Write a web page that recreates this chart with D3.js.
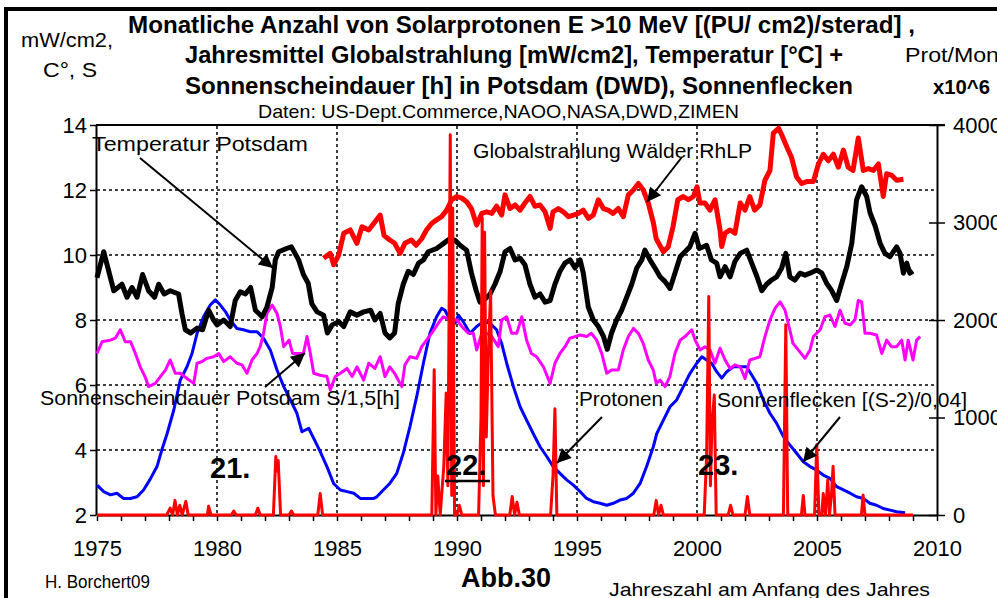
<!DOCTYPE html>
<html>
<head>
<meta charset="utf-8">
<script src="https://cdn.jsdelivr.net/npm/d3@7"></script>
<style>
  body { margin: 0; background: #fff; }
  svg { display: block; font-family: "Liberation Sans", Arial, sans-serif; }
</style>
</head>
<body>
<svg width="997" height="598"></svg>
<script>
// ---- data: [year, value] ----
const tempData = [[1975.00,9.3],[1975.28,10.1],[1975.42,9.7],[1975.70,8.9],[1976.04,9.1],[1976.25,8.7],[1976.46,9.0],[1976.67,8.7],[1976.90,9.4],[1977.15,8.9],[1977.40,8.7],[1977.57,9.1],[1977.80,8.8],[1978.05,8.9],[1978.40,8.8],[1978.54,8.2],[1978.68,7.7],[1978.90,7.6],[1979.17,7.75],[1979.40,7.7],[1979.65,8.3],[1979.86,8.0],[1980.0,7.85],[1980.28,8.0],[1980.55,7.8],[1980.76,8.6],[1980.97,8.87],[1981.18,8.8],[1981.40,9.0],[1981.60,8.3],[1981.88,8.1],[1982.08,8.4],[1982.30,9.0],[1982.43,9.85],[1982.57,10.1],[1982.90,10.2],[1983.10,10.25],[1983.40,9.85],[1983.60,9.4],[1983.80,9.13],[1983.95,8.5],[1984.17,8.25],[1984.44,8.15],[1984.60,7.6],[1984.80,7.85],[1985.07,7.95],[1985.28,7.8],[1985.55,8.25],[1985.83,8.15],[1986.11,8.25],[1986.40,8.3],[1986.58,8.0],[1986.80,8.2],[1987.0,7.6],[1987.2,7.45],[1987.4,7.6],[1987.55,8.5],[1987.76,9.1],[1987.97,9.5],[1988.18,9.4],[1988.4,9.75],[1988.6,9.85],[1988.8,10.1],[1989.15,10.2],[1989.43,10.35],[1989.7,10.5],[1989.92,10.45],[1990.13,10.3],[1990.4,10.15],[1990.6,9.45],[1990.8,8.9],[1990.96,8.55],[1991.17,8.65],[1991.38,8.8],[1991.58,9.1],[1991.8,9.5],[1992.0,10.1],[1992.21,10.2],[1992.42,9.85],[1992.63,9.9],[1992.83,9.7],[1993.04,9.1],[1993.25,8.7],[1993.46,8.8],[1993.67,8.55],[1993.88,8.6],[1994.08,9.1],[1994.29,9.5],[1994.5,9.75],[1994.71,9.85],[1994.92,9.6],[1995.13,9.85],[1995.26,9.45],[1995.47,8.4],[1995.68,8.0],[1995.89,7.8],[1996.1,7.5],[1996.26,7.1],[1996.44,7.6],[1996.65,8.0],[1996.86,8.3],[1997.07,8.7],[1997.28,9.1],[1997.49,9.6],[1997.7,9.85],[1997.83,10.15],[1998.04,9.85],[1998.25,9.6],[1998.46,9.33],[1998.67,9.18],[1998.875,8.97],[1999.08,9.44],[1999.3,9.95],[1999.5,10.1],[1999.7,10.25],[1999.92,10.67],[2000.1,10.2],[2000.4,10.3],[2000.6,9.85],[2000.82,9.75],[2000.96,9.33],[2001.17,9.64],[2001.38,9.33],[2001.58,9.8],[2001.8,10.05],[2002.07,10.15],[2002.28,9.75],[2002.5,9.33],[2002.7,8.9],[2002.9,9.1],[2003.1,9.23],[2003.32,9.33],[2003.53,9.6],[2003.7,10.05],[2003.87,9.33],[2004.08,9.23],[2004.29,9.44],[2004.5,9.38],[2004.71,9.44],[2004.99,9.54],[2005.2,9.44],[2005.4,9.13],[2005.6,8.92],[2005.82,8.6],[2006.03,9.13],[2006.24,9.64],[2006.45,10.36],[2006.65,11.7],[2006.86,12.1],[2007.07,11.8],[2007.21,11.3],[2007.42,10.9],[2007.63,10.36],[2007.83,10.05],[2008.04,9.95],[2008.32,10.25],[2008.46,10.05],[2008.6,9.44],[2008.74,9.75],[2008.87,9.44],[2009.0,9.5]];

const globalData = [[1984.44,9.9],[1984.72,10.05],[1984.86,9.7],[1985.07,10.0],[1985.28,10.67],[1985.55,10.77],[1985.83,10.36],[1986.04,10.87],[1986.32,10.77],[1986.53,10.97],[1986.8,11.23],[1986.96,10.6],[1987.2,10.46],[1987.4,10.36],[1987.63,10.05],[1987.83,10.36],[1988.1,10.46],[1988.3,10.3],[1988.53,10.5],[1988.73,10.77],[1988.94,10.97],[1989.15,11.08],[1989.36,11.18],[1989.57,11.38],[1989.78,11.7],[1990.0,11.8],[1990.2,11.75],[1990.4,11.64],[1990.6,11.43],[1990.82,10.92],[1991.03,11.28],[1991.24,11.33],[1991.45,11.28],[1991.65,11.5],[1991.86,11.23],[1992.0,11.85],[1992.21,11.43],[1992.42,11.54],[1992.63,11.38],[1992.83,11.6],[1993.04,11.8],[1993.25,11.5],[1993.46,11.54],[1993.67,11.33],[1993.88,10.82],[1994.0,11.33],[1994.22,11.43],[1994.43,11.33],[1994.64,11.18],[1994.85,11.23],[1995.06,11.28],[1995.26,11.38],[1995.47,11.13],[1995.68,11.23],[1995.89,11.7],[1996.1,11.43],[1996.3,11.38],[1996.5,11.28],[1996.72,11.43],[1996.93,11.18],[1997.14,11.85],[1997.35,12.0],[1997.56,12.2],[1997.76,12.0],[1997.97,11.6],[1998.18,11.0],[1998.3,10.5],[1998.6,10.1],[1998.8,10.25],[1999.0,10.87],[1999.2,11.7],[1999.43,11.8],[1999.64,11.7],[1999.85,11.8],[2000.0,12.1],[2000.12,11.6],[2000.33,11.6],[2000.54,11.38],[2000.75,11.7],[2000.96,10.77],[2001.03,10.26],[2001.17,10.67],[2001.38,10.77],[2001.58,10.67],[2001.8,11.6],[2002.0,11.38],[2002.2,11.8],[2002.4,11.38],[2002.62,11.54],[2002.83,12.3],[2003.04,12.6],[2003.18,13.75],[2003.4,13.9],[2003.53,13.7],[2003.74,13.33],[2003.94,13.0],[2004.15,12.4],[2004.36,12.2],[2004.57,12.26],[2004.85,12.26],[2005.06,12.8],[2005.26,13.1],[2005.47,12.9],[2005.68,13.1],[2005.89,12.7],[2006.1,13.23],[2006.3,12.7],[2006.5,12.6],[2006.72,13.6],[2006.93,12.6],[2007.14,12.66],[2007.35,12.6],[2007.56,12.8],[2007.76,11.8],[2007.9,12.5],[2008.1,12.46],[2008.32,12.3],[2008.6,12.33]];

const sunshineData = [[1975.0,6.97],[1975.21,7.33],[1975.56,7.38],[1975.76,7.44],[1975.97,7.7],[1976.18,7.33],[1976.4,7.33],[1976.6,6.97],[1976.8,6.56],[1977.0,6.26],[1977.15,5.95],[1977.43,6.05],[1977.64,6.26],[1977.85,6.46],[1978.05,6.77],[1978.26,6.36],[1978.47,6.36],[1978.75,6.2],[1979.03,6.05],[1979.17,6.67],[1979.38,6.72],[1979.58,6.82],[1979.86,6.87],[1980.07,6.97],[1980.28,6.72],[1980.55,6.87],[1980.83,6.67],[1981.04,6.62],[1981.25,6.36],[1981.46,6.77],[1981.67,6.97],[1981.8,7.18],[1981.94,7.59],[1982.08,8.2],[1982.3,8.46],[1982.5,8.2],[1982.64,7.8],[1982.78,7.18],[1983.0,7.38],[1983.15,6.97],[1983.33,6.97],[1983.6,6.97],[1983.75,7.49],[1983.89,6.97],[1984.03,6.36],[1984.3,6.3],[1984.58,6.26],[1984.72,5.85],[1984.93,6.26],[1985.14,6.36],[1985.42,6.51],[1985.63,6.26],[1985.83,6.56],[1986.11,6.15],[1986.32,6.67],[1986.58,6.51],[1986.8,6.87],[1987.0,6.26],[1987.2,6.56],[1987.4,6.36],[1987.7,5.95],[1987.83,6.62],[1988.04,6.87],[1988.32,6.82],[1988.53,7.18],[1988.73,7.38],[1988.94,7.59],[1989.22,7.9],[1989.43,8.1],[1989.7,8.0],[1990.0,8.0],[1990.2,7.8],[1990.47,7.59],[1990.68,7.59],[1990.82,7.08],[1991.03,7.59],[1991.24,7.59],[1991.45,7.49],[1991.72,7.18],[1991.86,8.0],[1992.07,8.1],[1992.28,7.59],[1992.49,7.59],[1992.7,8.1],[1992.9,7.38],[1993.1,6.97],[1993.32,6.87],[1993.6,6.56],[1993.88,6.05],[1994.08,6.67],[1994.29,6.97],[1994.5,7.18],[1994.7,7.44],[1994.92,7.49],[1995.13,7.54],[1995.4,7.49],[1995.6,7.59],[1995.82,7.38],[1996.03,6.97],[1996.24,6.36],[1996.44,6.46],[1996.72,6.46],[1996.93,7.08],[1997.14,7.49],[1997.35,7.74],[1997.56,7.59],[1997.76,7.28],[1997.97,6.77],[1998.18,6.46],[1998.3,6.05],[1998.46,6.15],[1998.67,5.95],[1998.87,6.26],[1999.08,6.97],[1999.3,7.38],[1999.5,7.49],[1999.78,7.7],[1999.92,7.38],[2000.13,7.08],[2000.33,7.18],[2000.54,7.08],[2000.75,6.67],[2000.96,7.13],[2001.17,6.77],[2001.38,6.51],[2001.58,6.62],[2001.8,6.56],[2002.0,6.2],[2002.2,6.77],[2002.42,6.82],[2002.62,6.87],[2002.83,7.49],[2003.04,8.0],[2003.25,8.36],[2003.46,8.56],[2003.67,8.3],[2003.8,7.9],[2004.0,7.28],[2004.22,7.08],[2004.5,6.82],[2004.71,7.08],[2004.85,7.49],[2005.13,7.7],[2005.33,8.1],[2005.54,8.15],[2005.75,7.8],[2005.96,8.3],[2006.17,7.9],[2006.38,7.85],[2006.58,8.0],[2006.72,8.6],[2006.86,8.56],[2007.0,7.59],[2007.2,7.59],[2007.48,7.54],[2007.7,6.97],[2007.9,7.38],[2008.1,7.18],[2008.32,7.18],[2008.53,7.38],[2008.67,6.77],[2008.8,7.38],[2009.0,6.77],[2009.15,7.38],[2009.3,7.49]];

// sunspots, already rescaled (S-2)/0.04 onto the left axis
const sunspotData = [[1975.0,2.92],[1975.28,2.72],[1975.56,2.62],[1975.83,2.67],[1976.1,2.51],[1976.39,2.51],[1976.67,2.56],[1976.94,2.77],[1977.2,3.08],[1977.5,3.49],[1977.7,4.0],[1977.92,4.5],[1978.2,5.23],[1978.47,6.15],[1978.75,6.56],[1978.96,6.97],[1979.17,7.59],[1979.44,8.1],[1979.72,8.46],[1979.93,8.62],[1980.14,8.46],[1980.35,8.26],[1980.55,8.0],[1980.83,7.74],[1981.1,7.7],[1981.39,7.64],[1981.67,7.64],[1981.94,7.44],[1982.22,7.08],[1982.5,6.46],[1982.78,5.95],[1983.06,5.54],[1983.33,5.13],[1983.54,4.56],[1983.82,4.67],[1984.03,4.36],[1984.3,3.95],[1984.58,3.49],[1984.86,2.97],[1985.14,2.77],[1985.42,2.72],[1985.7,2.67],[1985.97,2.51],[1986.25,2.51],[1986.53,2.51],[1986.66,2.56],[1986.93,2.77],[1987.2,2.97],[1987.49,3.28],[1987.76,3.9],[1988.04,4.72],[1988.32,5.64],[1988.6,6.67],[1988.87,7.59],[1989.15,8.1],[1989.36,8.36],[1989.5,8.3],[1989.71,8.0],[1989.92,7.9],[1990.06,8.15],[1990.26,7.95],[1990.54,7.59],[1990.82,7.8],[1991.1,7.95],[1991.38,7.9],[1991.65,7.7],[1991.86,7.28],[1992.07,6.67],[1992.35,5.95],[1992.63,5.33],[1992.9,4.92],[1993.18,4.5],[1993.46,4.1],[1993.74,3.8],[1994.01,3.49],[1994.29,3.28],[1994.57,3.08],[1994.85,2.92],[1995.13,2.72],[1995.4,2.51],[1995.68,2.41],[1995.96,2.36],[1996.24,2.3],[1996.51,2.36],[1996.79,2.46],[1997.07,2.51],[1997.35,2.67],[1997.63,2.97],[1997.9,3.49],[1998.18,4.1],[1998.32,4.5],[1998.6,4.92],[1998.875,5.33],[1999.15,5.54],[1999.43,5.95],[1999.71,6.36],[1999.99,6.67],[2000.2,6.87],[2000.4,6.77],[2000.61,6.67],[2000.82,6.41],[2001.03,6.21],[2001.24,6.41],[2001.52,6.56],[2001.8,6.56],[2002.07,6.56],[2002.28,6.31],[2002.49,6.05],[2002.76,5.54],[2003.04,5.13],[2003.32,4.82],[2003.6,4.41],[2003.875,4.15],[2004.15,3.9],[2004.43,3.64],[2004.71,3.49],[2004.99,3.38],[2005.26,3.23],[2005.54,3.13],[2005.82,2.87],[2006.1,2.77],[2006.38,2.67],[2006.65,2.56],[2006.93,2.51],[2007.2,2.36],[2007.48,2.3],[2007.76,2.2],[2008.04,2.15],[2008.32,2.1],[2008.67,2.07]];

// protons per month x10^6 (right axis)
const protonData = [[1975.0,0],[1977.9,0],[1978.05,70],[1978.15,0],[1978.25,150],[1978.35,0],[1978.45,100],[1978.55,0],[1978.7,140],[1978.8,0],[1979.6,0],[1979.65,90],[1979.75,0],[1980.6,0],[1980.7,40],[1980.8,0],[1981.6,0],[1981.7,70],[1981.8,0],[1982.35,0],[1982.45,600],[1982.5,450],[1982.55,560],[1982.65,0],[1983.0,0],[1983.1,40],[1983.2,0],[1984.2,0],[1984.3,220],[1984.4,0],[1988.95,0],[1989.05,1490],[1989.12,0],[1989.2,400],[1989.3,0],[1989.45,500],[1989.55,1250],[1989.62,300],[1989.72,3900],[1989.78,200],[1989.82,3150],[1989.9,0],[1990.0,0],[1990.1,100],[1990.2,0],[1990.9,0],[1991.0,1000],[1991.05,3050],[1991.1,300],[1991.15,2900],[1991.22,800],[1991.3,1600],[1991.4,2300],[1991.5,200],[1991.6,0],[1992.2,0],[1992.3,190],[1992.4,0],[1992.5,130],[1992.6,0],[1993.9,0],[1994.0,400],[1994.08,1090],[1994.16,0],[1998.2,0],[1998.3,150],[1998.4,0],[1998.5,100],[1998.6,0],[2000.3,0],[2000.4,600],[2000.49,2240],[2000.56,300],[2000.62,900],[2000.72,1230],[2000.8,0],[2001.3,0],[2001.4,100],[2001.5,0],[2002.0,0],[2002.1,190],[2002.2,0],[2003.6,0],[2003.7,1950],[2003.78,0],[2004.35,0],[2004.43,200],[2004.5,0],[2004.9,0],[2004.99,720],[2005.08,0],[2005.2,0],[2005.26,220],[2005.35,0],[2005.45,360],[2005.52,0],[2005.6,200],[2005.67,500],[2005.75,0],[2006.85,0],[2006.92,205],[2007.0,0],[2009.0,0]];

const leftTicks = [2, 4, 6, 8, 10, 12, 14];
const rightTicks = [0, 1000, 2000, 3000, 4000];
const yearTicks = d3.range(1975, 2011);
const gridYears = [1980, 1985, 1990, 1995, 2000, 2005];

const titleLines = [
  "Monatliche Anzahl von Solarprotonen  E >10 MeV [(PU/ cm2)/sterad] ,",
  "Jahresmittel Globalstrahlung [mW/cm2], Temperatur [°C] +",
  "Sonnenscheindauer [h] in Potsdam (DWD), Sonnenflecken"
];

// ---- layout ----
const svg = d3.select("svg");
svg.append("rect").attr("width", 997).attr("height", 598).attr("fill", "#fff");
// outer frame
svg.append("rect")
  .attr("x", 6).attr("y", 9).attr("width", 1100).attr("height", 700)
  .attr("fill", "none").attr("stroke", "#000").attr("stroke-width", 4);

const x = d3.scaleLinear().domain([1975, 2010]).range([97, 937]);
const yL = d3.scaleLinear().domain([2, 14]).range([515, 125]);
const yR = d3.scaleLinear().domain([0, 4000]).range([515, 125]);

// grid
const grid = svg.append("g").attr("stroke", "#000").attr("stroke-width", 1.5)
  .attr("stroke-dasharray", "3,3");
grid.selectAll(".hg").data(leftTicks.filter(d => d > 2 && d < 14)).join("line")
  .attr("x1", 97).attr("x2", 937).attr("y1", d => yL(d)).attr("y2", d => yL(d));
grid.selectAll(".vg").data(gridYears).join("line")
  .attr("x1", d => x(d)).attr("x2", d => x(d)).attr("y1", 126).attr("y2", 515);

// top border
svg.append("line").attr("x1", 96).attr("x2", 945).attr("y1", 125).attr("y2", 125)
  .attr("stroke", "#000").attr("stroke-width", 2);

// axes
const fontAxis = "22px";
const xAxis = svg.append("g").attr("transform", "translate(0,515)")
  .call(d3.axisBottom(x).tickValues(yearTicks).tickSize(6).tickPadding(19)
    .tickSizeOuter(0).tickFormat(d => d % 5 === 0 ? d : ""));
const yAxisL = svg.append("g").attr("transform", "translate(96,0)")
  .call(d3.axisLeft(yL).tickValues(leftTicks).tickSize(6).tickPadding(3).tickSizeOuter(0));
const yAxisR = svg.append("g").attr("transform", "translate(937,0)")
  .call(d3.axisRight(yR).tickValues(rightTicks).tickSize(8).tickPadding(8)
    .tickSizeOuter(0).tickFormat(d3.format("d")));
yAxisR.selectAll(".tick").append("line").attr("x1", -8).attr("x2", 0).attr("stroke", "#000");
[xAxis, yAxisL, yAxisR].forEach(g => {
  g.selectAll("path.domain").attr("stroke", "#000").attr("stroke-width", 2);
  g.selectAll(".tick line").attr("stroke", "#000").attr("stroke-width", 1.5);
  g.selectAll(".tick text").attr("fill", "#000")
    .style("font-family", "'Liberation Sans', Arial, sans-serif").style("font-size", fontAxis);
});

// series
const lineL = d3.line().x(d => x(d[0])).y(d => yL(d[1]));
const lineR = d3.line().x(d => x(d[0])).y(d => yR(d[1]));
const series = [
  { data: sunspotData, line: lineL, color: "#0000ff", w: 3 },
  { data: sunshineData, line: lineL, color: "#ff00ff", w: 3 },
  { data: tempData, line: lineL, color: "#000000", w: 5 },
  { data: globalData, line: lineL, color: "#ff0000", w: 5 },
  { data: protonData, line: lineR, color: "#ff0000", w: 3 }
];
svg.append("g").selectAll("path").data(series).join("path")
  .attr("d", s => s.line(s.data))
  .attr("fill", "none")
  .attr("stroke", s => s.color)
  .attr("stroke-width", s => s.w)
  .attr("stroke-linejoin", "round");

// arrow marker
svg.append("defs").append("marker")
  .attr("id", "head").attr("viewBox", "0 0 10 10").attr("refX", 10).attr("refY", 5)
  .attr("markerWidth", 8).attr("markerHeight", 7).attr("markerUnits", "strokeWidth")
  .attr("orient", "auto")
  .append("path").attr("d", "M0,0L10,5L0,10z").attr("fill", "#000");

const arrows = [
  [140, 158, 273, 268],
  [682, 157, 647, 202],
  [265, 387, 305, 353],
  [602, 417, 557, 463],
  [840, 417, 803, 462]
];
svg.append("g").selectAll("line").data(arrows).join("line")
  .attr("x1", d => d[0]).attr("y1", d => d[1]).attr("x2", d => d[2]).attr("y2", d => d[3])
  .attr("stroke", "#000").attr("stroke-width", 2).attr("marker-end", "url(#head)");

// texts
function txt(s, px, py, size, opts = {}) {
  const t = svg.append("text").attr("x", px).attr("y", py).text(s)
    .attr("font-size", size).attr("fill", "#000")
    .attr("font-weight", opts.bold ? "bold" : "normal")
    .attr("text-anchor", opts.anchor || "start");
  if (opts.len) t.attr("textLength", opts.len).attr("lengthAdjust", "spacingAndGlyphs");
  return t;
}
txt(titleLines[0], 128, 33, 23, { bold: true, len: 787 });
txt(titleLines[1], 185, 63, 23, { bold: true, len: 658 });
txt(titleLines[2], 185, 94, 23, { bold: true, len: 668 });
txt("Daten: US-Dept.Commerce,NAOO,NASA,DWD,ZIMEN", 258, 118, 19, { len: 481 });

txt("mW/cm2,", 21, 47, 21, { len: 92 });
txt("C°, S", 43, 77, 21, { len: 54 });
txt("Prot/Mon", 905, 62, 21, { len: 94 });
txt("x10^6", 933, 94, 21, { bold: true, len: 57 });

txt("Temperatur Potsdam", 92, 151, 21, { len: 216 });
txt("Globalstrahlung Wälder RhLP", 473, 158, 21, { len: 279 });
txt("Sonnenscheindauer Potsdam S/1,5[h]", 40, 405, 21, { len: 360 });
txt("Protonen", 579, 406, 21, { len: 84 });
txt("Sonnenflecken [(S-2)/0,04]", 717, 407, 21, { len: 250 });

txt("21.", 210, 478, 29, { bold: true });
txt("22.", 446, 475, 29, { bold: true });
svg.append("line").attr("x1", 445).attr("x2", 490).attr("y1", 481).attr("y2", 481)
  .attr("stroke", "#000").attr("stroke-width", 2.5);
txt("23.", 698, 475, 29, { bold: true });

txt("H. Borchert09", 45, 588, 19, { len: 105 });
txt("Abb.30", 506, 587, 27, { bold: true, anchor: "middle" });
txt("Jahreszahl am Anfang des Jahres", 609, 596, 19, { len: 321 });
</script>
</body>
</html>
